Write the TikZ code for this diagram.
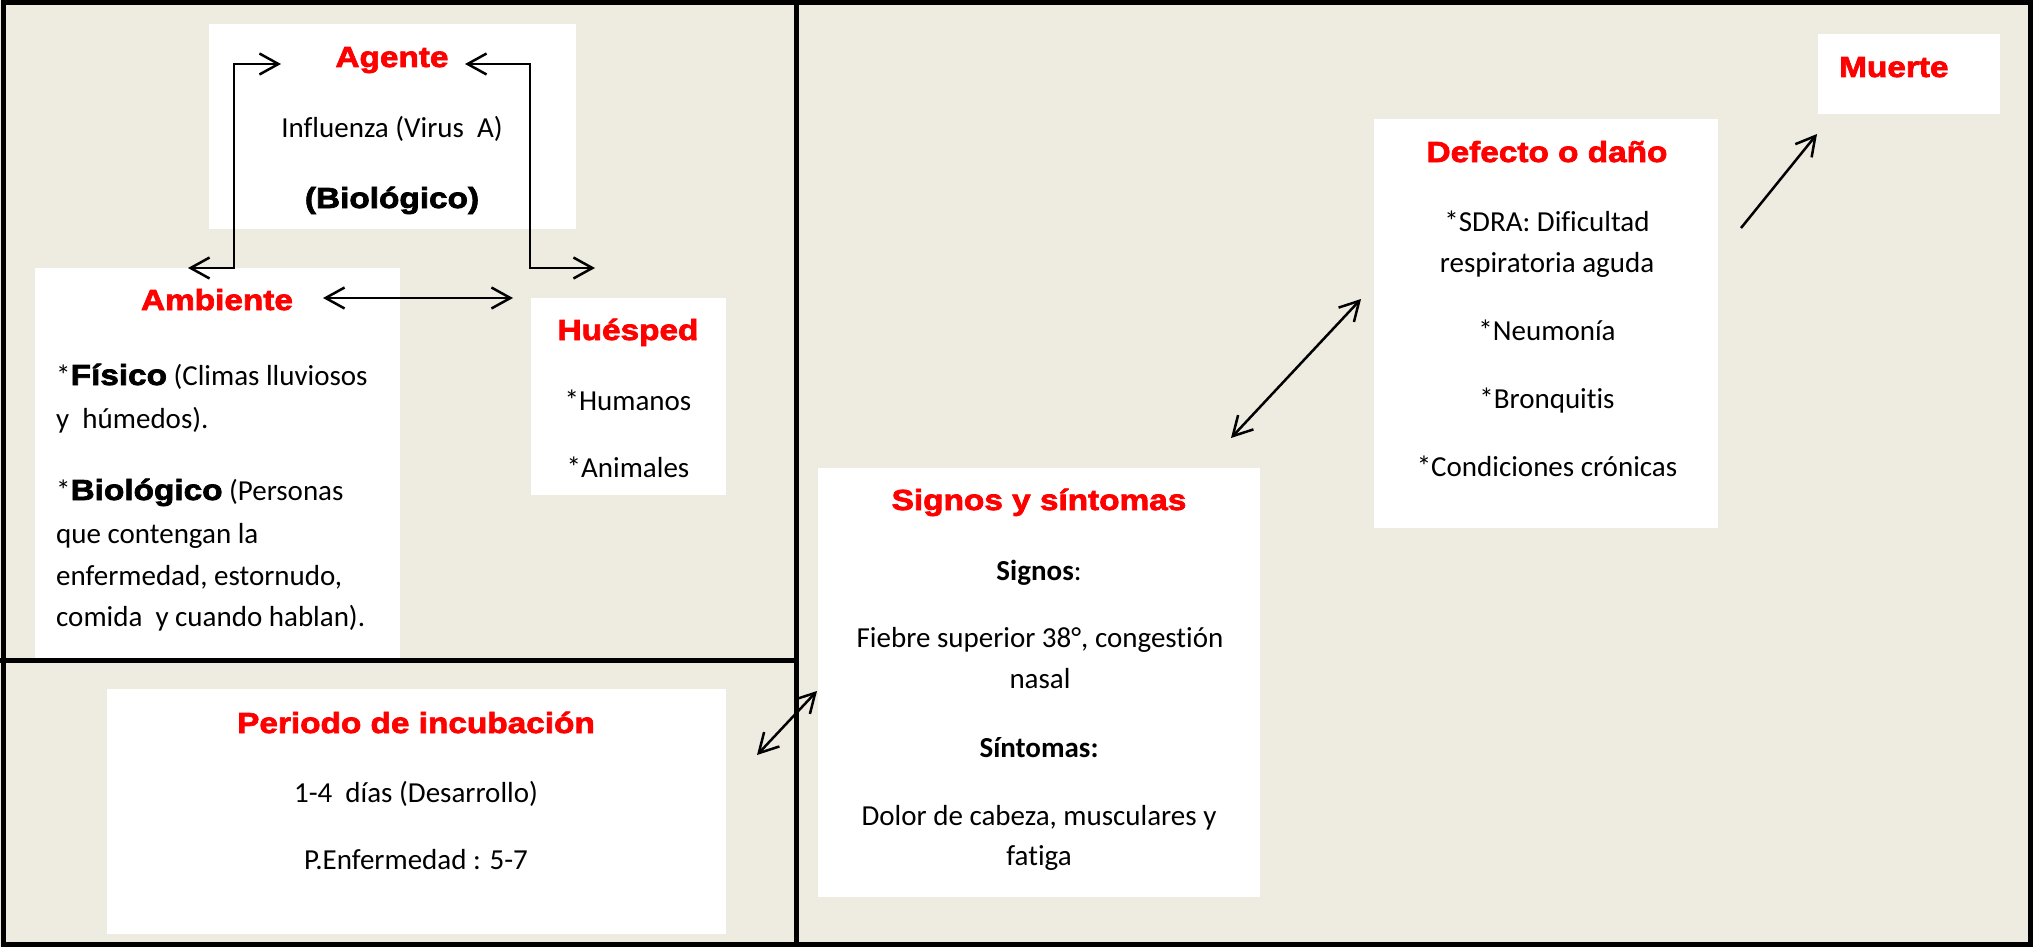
\documentclass[tikz,border=0pt]{standalone}
\usepackage{fontspec}
\setmainfont{Carlito}[Ligatures=NoCommon]
\newfontfamily\hfont{Liberation Sans}[FakeStretch=1.15,BoldFeatures={FakeBold=2.5}]
\usetikzlibrary{arrows.meta}
\definecolor{bg}{HTML}{EEECE1}
\definecolor{hred}{HTML}{FF0000}
\begin{document}
\begin{tikzpicture}[x=1pt,y=-1pt,
  box/.style={fill=white, draw=none, inner sep=0pt},
  hd/.style={font=\hfont\bfseries\fontsize{29}{35}\selectfont, text=hred, inner sep=0pt, anchor=base},
  hb/.style={font=\hfont\bfseries\fontsize{29}{35}\selectfont, text=black, inner sep=0pt, anchor=base},
  tx/.style={font=\fontsize{29}{35}\selectfont, inner sep=0pt, anchor=base},
  txl/.style={tx, anchor=base west},
  conn/.style={line width=2.5pt, line join=miter},
  both/.style={conn, {Straight Barb[length=19pt,width=21pt]}-{Straight Barb[length=19pt,width=21pt]}},
  one/.style={conn, -{Straight Barb[length=19pt,width=21pt]}},
  frame/.style={line width=5pt, draw=black}
]
\useasboundingbox (0,0) rectangle (2033,947);
\fill[bg] (0,0) rectangle (2033,947);

% boxes
\node[box, minimum width=367pt, minimum height=205pt] (agente) at (392.5,126.5) {};
\node[box, minimum width=365pt, minimum height=392pt] (ambiente) at (217.5,464) {};
\node[box, minimum width=195pt, minimum height=197pt] (huesped) at (628.5,396.5) {};
\node[box, minimum width=619pt, minimum height=245pt] (periodo) at (416.5,811.5) {};
\node[box, minimum width=442pt, minimum height=429pt] (signos) at (1039,682.5) {};
\node[box, minimum width=344pt, minimum height=409pt] (defecto) at (1546,323.5) {};
\node[box, minimum width=182pt, minimum height=80pt] (muerte) at (1909,74) {};

% frame
\draw[frame] (3,2.5) rectangle (2030,944.5);
\draw[frame] (796,0) -- (796,947);
\draw[frame] (0,660) -- (796,660);

% Agente
\node[hd] (tagente) at (392,67) {Agente};
\node[tx] (tinfl) at (392,137) {Influenza (Virus~~A)};
\node[hb] (tbio) at (392,208) {(Biológico)};

% Ambiente
\node[hd] (tambiente) at (217,310) {Ambiente};
\node[txl] (a1) at (56,385) {*{\hfont\bfseries Físico} (Climas lluviosos};
\node[txl] (a2) at (56,428) {y~~húmedos).};
\node[txl] (a3) at (56,500) {*{\hfont\bfseries Biológico} (Personas};
\node[txl] (a4) at (56,543) {que contengan la};
\node[txl] (a5) at (56,585) {enfermedad, estornudo,};
\node[txl] (a6) at (56,626) {comida~~y cuando hablan).};

% Huesped
\node[hd] (thuesped) at (628,340) {Huésped};
\node[tx] (h1) at (628,410) {*Humanos};
\node[tx] (h2) at (628,477) {*Animales};

% Periodo
\node[hd] (tperiodo) at (416,733) {Periodo de incubación};
\node[tx] (p1) at (416,802) {1-4~~días (Desarrollo)};
\node[tx] (p2) at (416,869) {P.Enfermedad : 5-7};

% Signos
\node[hd] (tsignos) at (1039,510) {Signos y síntomas};
\node[tx] (s1) at (1039,580) {\textbf{Signos}:};
\node[tx] (s2) at (1040,647) {Fiebre superior 38°, congestión};
\node[tx] (s3) at (1040,688) {nasal};
\node[tx] (s4) at (1039,757) {\textbf{Síntomas:}};
\node[tx] (s5) at (1039,825) {Dolor de cabeza, musculares y};
\node[tx] (s6) at (1039,865) {fatiga};

% Defecto
\node[hd] (tdefecto) at (1547,162) {Defecto o daño};
\node[tx] (d1) at (1547,231) {*SDRA: Dificultad};
\node[tx] (d2) at (1547,272) {respiratoria aguda};
\node[tx] (d3) at (1547,340) {*Neumonía};
\node[tx] (d4) at (1547,408) {*Bronquitis};
\node[tx] (d5) at (1547,476) {*Condiciones crónicas};

% Muerte
\node[hd, anchor=base west] (tmuerte) at (1839,77) {Muerte};

% connector end points
\coordinate (c1a) at (188,268);
\coordinate (c1b) at (281,64);
\coordinate (c2a) at (465,64);
\coordinate (c2b) at (595,268);
\coordinate (c3a) at (323,298);
\coordinate (c3b) at (513,298);
\coordinate (c4a) at (757,755);
\coordinate (c4b) at (817,691);
\coordinate (c5a) at (1231,438);
\coordinate (c5b) at (1361,299);
\coordinate (c6a) at (1741,228);
\coordinate (c6b) at (1817,134);

\draw[both] (c1a) -- (234,268) -- (234,64) -- (c1b);
\draw[both] (c2a) -- (530,64) -- (530,268) -- (c2b);
\draw[both] (c3a) -- (c3b);
\draw[both] (c4a) -- (c4b);
\draw[both] (c5a) -- (c5b);
\draw[one] (c6a) -- (c6b);
\end{tikzpicture}
\end{document}
